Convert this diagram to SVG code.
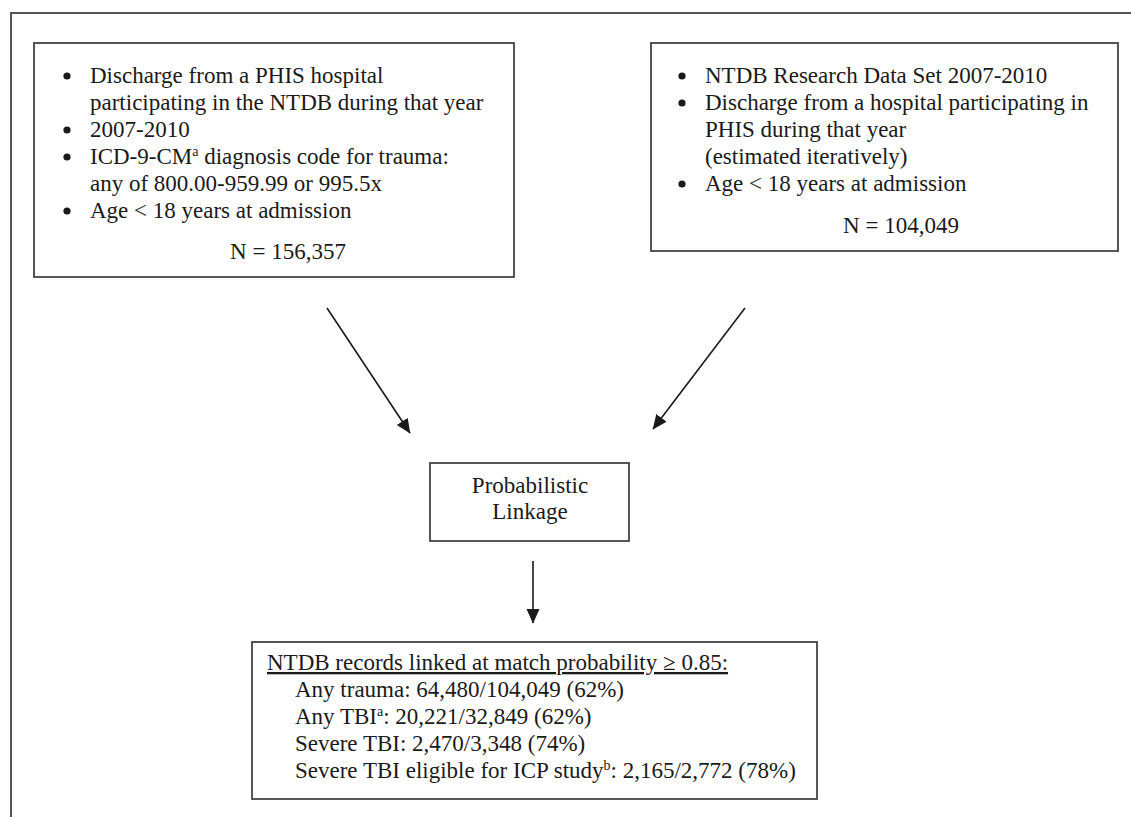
<svg xmlns="http://www.w3.org/2000/svg" width="1131" height="817" viewBox="0 0 1131 817">
<defs>
<style>
.box{fill:#fff;stroke:#444;stroke-width:1.8}
.t{font-family:"Liberation Serif","Times New Roman",serif;font-size:23px;fill:#1a1a1a}
.c{text-anchor:middle}
.sup{font-size:14px}
.bul{fill:#1a1a1a}
.conn{stroke:#1a1a1a;stroke-width:1.6;fill:none;marker-end:url(#ah)}
</style>
<marker id="ah" markerUnits="userSpaceOnUse" markerWidth="15" markerHeight="15" viewBox="0 0 15 15" refX="14" refY="7.5" orient="auto">
<path d="M0,1 L14.5,7.5 L0,14 Z" fill="#1a1a1a"/>
</marker>
</defs>
<rect width="1131" height="817" fill="#fff"/>
<g id="frame">
<path d="M11,817 L11,13 L1131,13" fill="none" stroke="#555" stroke-width="2"/>
</g>
<g id="box-phis">
<rect class="box" x="34" y="43" width="480" height="234"/>
<circle class="bul" cx="67" cy="76" r="3.6"/>
<text class="t" x="90" y="83">Discharge from a PHIS hospital</text>
<text class="t" x="90" y="110">participating in the NTDB during that year</text>
<circle class="bul" cx="67" cy="130" r="3.6"/>
<text class="t" x="90" y="137">2007-2010</text>
<circle class="bul" cx="67" cy="157" r="3.6"/>
<text class="t" x="90" y="164">ICD-9-CM<tspan class="sup" dy="-8">a</tspan><tspan dy="8"> diagnosis code for trauma:</tspan></text>
<text class="t" x="90" y="191">any of 800.00-959.99 or 995.5x</text>
<circle class="bul" cx="67" cy="211" r="3.6"/>
<text class="t" x="90" y="218">Age &lt; 18 years at admission</text>
<text class="t c" x="288" y="259">N = 156,357</text>
</g>
<g id="box-ntdb">
<rect class="box" x="651" y="43" width="467" height="208"/>
<circle class="bul" cx="682" cy="76" r="3.6"/>
<text class="t" x="705" y="83">NTDB Research Data Set 2007-2010</text>
<circle class="bul" cx="682" cy="103" r="3.6"/>
<text class="t" x="705" y="110">Discharge from a hospital participating in</text>
<text class="t" x="705" y="137">PHIS during that year</text>
<text class="t" x="705" y="164">(estimated iteratively)</text>
<circle class="bul" cx="682" cy="184" r="3.6"/>
<text class="t" x="705" y="191">Age &lt; 18 years at admission</text>
<text class="t c" x="901" y="233">N = 104,049</text>
</g>
<g id="box-linkage">
<rect class="box" x="430" y="463" width="199" height="78"/>
<text class="t c" x="530" y="493">Probabilistic</text>
<text class="t c" x="530" y="519">Linkage</text>
</g>
<g id="box-result">
<rect class="box" x="252" y="642" width="565" height="157"/>
<text class="t" x="267" y="670" text-decoration="underline">NTDB records linked at match probability ≥ 0.85:</text>
<text class="t" x="295" y="697">Any trauma: 64,480/104,049 (62%)</text>
<text class="t" x="295" y="724">Any TBI<tspan class="sup" dy="-8">a</tspan><tspan dy="8">: 20,221/32,849 (62%)</tspan></text>
<text class="t" x="295" y="751">Severe TBI: 2,470/3,348 (74%)</text>
<text class="t" x="295" y="778">Severe TBI eligible for ICP study<tspan class="sup" dy="-8">b</tspan><tspan dy="8">: 2,165/2,772 (78%)</tspan></text>
</g>
<g id="connectors">
<path class="conn" d="M327,308 L410,433"/>
<path class="conn" d="M745,308 L653,429"/>
<path class="conn" d="M533,561 L533,623"/>
</g>
</svg>
